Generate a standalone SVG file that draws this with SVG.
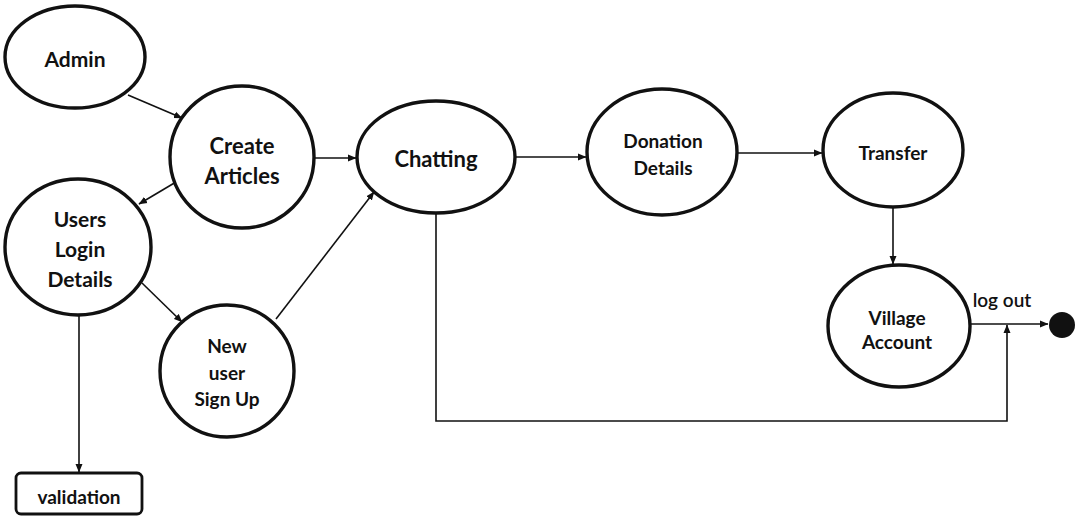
<svg xmlns="http://www.w3.org/2000/svg" width="1082" height="518" viewBox="0 0 1082 518">
  <defs>
    <marker id="arrow" markerWidth="9" markerHeight="8" refX="8" refY="4" orient="auto" markerUnits="userSpaceOnUse">
      <path d="M0,0.5 L8.5,4 L0,7.5 Z" fill="#111"/>
    </marker>
    <style>
      .node { fill: #fff; stroke: #111; stroke-width: 3.4; }
      .box { fill: #fff; stroke: #111; stroke-width: 2.8; }
      .lbl { font-family: Lato, "Open Sans", "Liberation Sans", sans-serif; font-weight: bold; fill: #111; text-anchor: middle; dominant-baseline: central; }
      .edge { fill: none; stroke: #111; stroke-width: 1.6; }
      .arr { marker-end: url(#arrow); }
    </style>
  </defs>
  <rect width="1082" height="518" fill="#fff"/>

  <!-- connectors -->
  <g id="connectors">
    <line class="edge arr" x1="128" y1="95" x2="182" y2="118"/>
    <line class="edge arr" x1="176" y1="182" x2="139" y2="204"/>
    <line class="edge arr" x1="314" y1="158" x2="356" y2="158"/>
    <line class="edge arr" x1="142" y1="283" x2="182" y2="322"/>
    <line class="edge arr" x1="276" y1="319" x2="374" y2="192"/>
    <line class="edge arr" x1="79" y1="315" x2="79" y2="472"/>
    <line class="edge arr" x1="515" y1="157" x2="586" y2="157"/>
    <line class="edge arr" x1="738" y1="153" x2="822" y2="153"/>
    <line class="edge arr" x1="893" y1="207" x2="893" y2="264"/>
    <line class="edge arr" x1="970" y1="324" x2="1048" y2="324"/>
    <polyline class="edge arr" points="436,213 436,421 1007,421 1007,325"/>
  </g>

  <g id="admin">
    <ellipse class="node" cx="75" cy="57" rx="70" ry="51"/>
    <text class="lbl" x="75" y="58" font-size="21">Admin</text>
  </g>

  <g id="create-articles">
    <ellipse class="node" cx="242" cy="157" rx="72" ry="71"/>
    <text class="lbl" x="242" y="145" font-size="22">Create</text>
    <text class="lbl" x="242" y="175" font-size="22">Articles</text>
  </g>

  <g id="users-login">
    <ellipse class="node" cx="78" cy="247" rx="73" ry="68"/>
    <text class="lbl" x="80" y="218" font-size="21">Users</text>
    <text class="lbl" x="80" y="248" font-size="21">Login</text>
    <text class="lbl" x="80" y="278" font-size="21">Details</text>
  </g>

  <g id="new-user">
    <ellipse class="node" cx="227" cy="371" rx="67" ry="66"/>
    <text class="lbl" x="227" y="345" font-size="19">New</text>
    <text class="lbl" x="227" y="372" font-size="19">user</text>
    <text class="lbl" x="227" y="398" font-size="19">Sign Up</text>
  </g>

  <g id="validation">
    <rect class="box" x="16" y="473" width="126" height="41" rx="5"/>
    <text class="lbl" x="79" y="496" font-size="19">validation</text>
  </g>

  <g id="chatting">
    <ellipse class="node" cx="436" cy="157" rx="79" ry="56"/>
    <text class="lbl" x="436" y="158" font-size="22">Chatting</text>
  </g>

  <g id="donation-details">
    <ellipse class="node" cx="662" cy="152" rx="75" ry="63"/>
    <text class="lbl" x="663" y="140" font-size="19">Donation</text>
    <text class="lbl" x="663" y="167" font-size="19">Details</text>
  </g>

  <g id="transfer">
    <ellipse class="node" cx="893" cy="150" rx="70" ry="57"/>
    <text class="lbl" x="893" y="152" font-size="19">Transfer</text>
  </g>

  <g id="village-account">
    <ellipse class="node" cx="899" cy="326" rx="71" ry="61"/>
    <text class="lbl" x="897" y="317" font-size="19">Village</text>
    <text class="lbl" x="897" y="341" font-size="19">Account</text>
  </g>

  <g id="end">
    <circle cx="1062" cy="325" r="13" fill="#111"/>
  </g>

  <text class="lbl" x="1002" y="299" font-size="19" style="font-weight:600">log out</text>
</svg>
